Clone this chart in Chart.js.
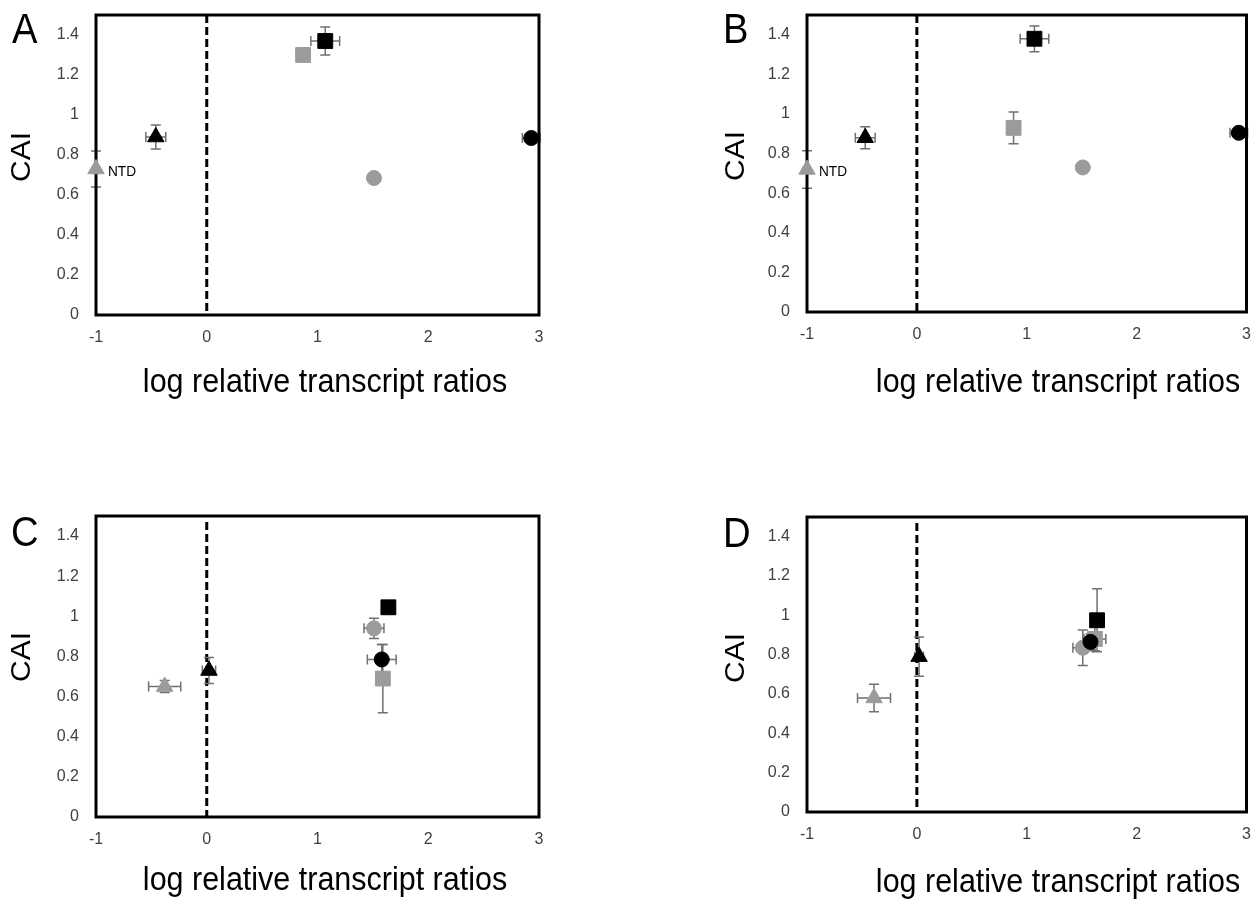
<!DOCTYPE html>
<html>
<head>
<meta charset="utf-8">
<script src="https://cdn.jsdelivr.net/npm/chart.js@4.4.1/dist/chart.umd.min.js"></script>
<style>
  html, body { margin: 0; padding: 0; background: #fff; }
  body { width: 1258px; height: 900px; position: relative; overflow: hidden; }
  .panel { position: absolute; width: 629px; height: 450px; }
  .panel canvas { display: block; }
</style>
</head>
<body>
<div class="panel" style="left:0;top:0"><canvas id="chartA" width="629" height="450"></canvas></div>
<div class="panel" style="left:629px;top:0"><canvas id="chartB" width="629" height="450"></canvas></div>
<div class="panel" style="left:0;top:450px"><canvas id="chartC" width="629" height="450"></canvas></div>
<div class="panel" style="left:629px;top:450px"><canvas id="chartD" width="629" height="450"></canvas></div>

<script>
// --- data ---
// series order: black circle, black square, black triangle, grey circle, grey square, grey triangle
const seriesNames = ['black circle', 'black square', 'black triangle', 'grey circle', 'grey square', 'grey triangle'];
const seriesShapes = ['circle', 'rect', 'triangle', 'circle', 'rect', 'triangle'];
const seriesColors = ['#000000', '#000000', '#000000', '#9b9b9b', '#9b9b9b', '#9b9b9b'];
const seriesRadius = [7.5, 10.5, 9.5, 7.5, 10.5, 9.5];

const xTickValues = [-1, 0, 1, 2, 3];
const xTickLabels = ['-1', '0', '1', '2', '3'];
const yTickValues = [0, 0.2, 0.4, 0.6, 0.8, 1.0, 1.2, 1.4];
const yTickLabels = ['0', '0.2', '0.4', '0.6', '0.8', '1', '1.2', '1.4'];

const xTitle = 'log relative transcript ratios';
const yTitle = 'CAI';
const noteText = 'NTD';

// panel A
const aX    = [2.93, 1.07, -0.46, 1.51, 0.87, -1.00];
const aY    = [0.885, 1.37, 0.89, 0.685, 1.30, 0.73];
const aXErr = [0.08, 0.13, 0.09, 0, 0, 0];
const aYErr = [0, 0.07, 0.06, 0, 0, 0.09];

// panel B
const bX    = [2.93, 1.07, -0.47, 1.51, 0.88, -1.00];
const bY    = [0.905, 1.38, 0.88, 0.73, 0.93, 0.72];
const bXErr = [0.08, 0.13, 0.09, 0, 0, 0];
const bYErr = [0, 0.065, 0.055, 0, 0.08, 0.095];

// panel C
const cX    = [1.58, 1.64, 0.02, 1.51, 1.59, -0.38];
const cY    = [0.785, 1.045, 0.73, 0.94, 0.69, 0.65];
const cXErr = [0.13, 0.03, 0.06, 0.09, 0, 0.145];
const cYErr = [0.075, 0.02, 0.065, 0.05, 0.17, 0.03];

// panel D
const dX    = [1.58, 1.64, 0.02, 1.51, 1.62, -0.39];
const dY    = [0.865, 0.975, 0.79, 0.835, 0.88, 0.58];
const dXErr = [0.04, 0.03, 0.04, 0.09, 0.1, 0.15];
const dYErr = [0.04, 0.16, 0.1, 0.09, 0.06, 0.07];

// --- layout per panel (canvas coords) ---
const panels = {
    chartA: { letter: 'A', x: aX, y: aY, xErr: aXErr, yErr: aYErr, note: 5,
              area: { l: 96, t: 15, r: 539, b: 315 }, dashGap: 0,
              letterPos: [12, 43], yTitlePos: [22, 157], xTitlePos: [325, 392] },
    chartB: { letter: 'B', x: bX, y: bY, xErr: bXErr, yErr: bYErr, note: 5,
              area: { l: 178, t: 15, r: 621, b: 312 }, dashGap: 0,
              letterPos: [94, 43], yTitlePos: [107, 156], xTitlePos: [429, 392] },
    chartC: { letter: 'C', x: cX, y: cY, xErr: cXErr, yErr: cYErr, note: -1,
              area: { l: 96, t: 66, r: 539, b: 367 }, dashGap: 6,
              letterPos: [11, 96], yTitlePos: [22, 207], xTitlePos: [325, 440] },
    chartD: { letter: 'D', x: dX, y: dY, xErr: dXErr, yErr: dYErr, note: -1,
              area: { l: 178, t: 67, r: 621, b: 362 }, dashGap: 6,
              letterPos: [94, 97], yTitlePos: [107, 208], xTitlePos: [429, 442] }
};

const SQUEEZE = 0.91; // the figure text is a bit narrow
const textFont = '"Liberation Sans", Arial, sans-serif';

function drawText(ctx, text, x, y, size, opts) {
    ctx.save();
    ctx.translate(x, y);
    if (opts.rotate) {
        ctx.rotate(-Math.PI / 2);
        ctx.scale(1, SQUEEZE);
    } else {
        ctx.scale(SQUEEZE, 1);
    }
    ctx.font = size + 'px ' + textFont;
    ctx.fillStyle = opts.color || '#000';
    ctx.textAlign = opts.align || 'left';
    ctx.textBaseline = opts.baseline || 'alphabetic';
    ctx.fillText(text, 0, 0);
    ctx.restore();
}

const panelDecor = {
    id: 'panelDecor',
    beforeDatasetsDraw(chart) {
        const p = panels[chart.canvas.id];
        const { ctx, chartArea: ca, scales: { x, y } } = chart;
        ctx.save();

        // dashed line at x = 0
        const x0 = x.getPixelForValue(0);
        ctx.strokeStyle = '#000';
        ctx.lineWidth = 3;
        ctx.setLineDash([8, 4]);
        ctx.beginPath();
        ctx.moveTo(x0, ca.top + p.dashGap);
        ctx.lineTo(x0, ca.bottom);
        ctx.stroke();
        ctx.setLineDash([]);

        // error bars
        const cap = 5;
        ctx.strokeStyle = '#707070';
        ctx.lineWidth = 1.5;
        p.x.forEach((xv, i) => {
            const px = x.getPixelForValue(xv);
            const py = y.getPixelForValue(p.y[i]);
            ctx.beginPath();
            if (p.xErr[i] > 0) {
                const x1 = x.getPixelForValue(xv - p.xErr[i]);
                const x2 = x.getPixelForValue(xv + p.xErr[i]);
                ctx.moveTo(x1, py); ctx.lineTo(x2, py);
                ctx.moveTo(x1, py - cap); ctx.lineTo(x1, py + cap);
                ctx.moveTo(x2, py - cap); ctx.lineTo(x2, py + cap);
            }
            if (p.yErr[i] > 0) {
                const y1 = y.getPixelForValue(p.y[i] - p.yErr[i]);
                const y2 = y.getPixelForValue(p.y[i] + p.yErr[i]);
                ctx.moveTo(px, y1); ctx.lineTo(px, y2);
                ctx.moveTo(px - cap, y1); ctx.lineTo(px + cap, y1);
                ctx.moveTo(px - cap, y2); ctx.lineTo(px + cap, y2);
            }
            ctx.stroke();
        });

        // frame
        ctx.strokeStyle = '#000';
        ctx.lineWidth = 3;
        ctx.strokeRect(ca.left, ca.top, ca.right - ca.left, ca.bottom - ca.top);
        ctx.restore();
    },
    afterDraw(chart) {
        const p = panels[chart.canvas.id];
        const { ctx, scales: { x, y } } = chart;
        drawText(ctx, p.letter, p.letterPos[0], p.letterPos[1], 42, {});
        drawText(ctx, yTitle, p.yTitlePos[0], p.yTitlePos[1], 30, { rotate: true, align: 'center', baseline: 'middle' });
        drawText(ctx, xTitle, p.xTitlePos[0], p.xTitlePos[1], 33.5, { align: 'center' });
        if (p.note >= 0) {
            const px = x.getPixelForValue(p.x[p.note]);
            const py = y.getPixelForValue(p.y[p.note]);
            drawText(ctx, noteText, px + 12, py + 7, 15, {});
        }
    }
};

function buildChart(id) {
    const p = panels[id];
    const W = 629, H = 450;
    const datasets = seriesNames.map((name, i) => ({
        label: name,
        data: [{ x: p.x[i], y: p.y[i] }],
        pointStyle: seriesShapes[i],
        pointRadius: seriesRadius[i],
        pointHoverRadius: seriesRadius[i],
        backgroundColor: seriesColors[i],
        borderColor: seriesColors[i],
        borderWidth: 1,
        clip: false
    }));

    const tickFont = { family: textFont, size: 16 };

    return new Chart(document.getElementById(id), {
        type: 'scatter',
        data: { datasets: datasets },
        plugins: [panelDecor],
        options: {
            responsive: false,
            animation: false,
            events: [],
            layout: { padding: { left: 0, top: p.area.t, right: W - p.area.r, bottom: 0 } },
            plugins: { legend: { display: false }, tooltip: { enabled: false } },
            scales: {
                x: {
                    type: 'linear', min: -1, max: 3,
                    afterBuildTicks: s => { s.ticks = xTickValues.map(v => ({ value: v })); },
                    afterFit: s => { s.height = H - p.area.b; s.paddingLeft = 0; s.paddingRight = 0; },
                    grid: { display: false, drawTicks: false },
                    border: { display: false },
                    ticks: { padding: 13, color: '#404040', font: tickFont, maxRotation: 0, autoSkip: false,
                             callback: (v, i) => xTickLabels[i] }
                },
                y: {
                    type: 'linear', min: 0, max: 1.5,
                    afterBuildTicks: s => { s.ticks = yTickValues.map(v => ({ value: v })); },
                    afterFit: s => { s.width = p.area.l; s.paddingTop = 0; s.paddingBottom = 0; },
                    grid: { display: false, drawTicks: false },
                    border: { display: false },
                    ticks: { padding: 17, color: '#404040', font: tickFont, autoSkip: false,
                             callback: (v, i) => yTickLabels[i] }
                }
            }
        }
    });
}

Object.keys(panels).forEach(buildChart);
</script>
</body>
</html>
